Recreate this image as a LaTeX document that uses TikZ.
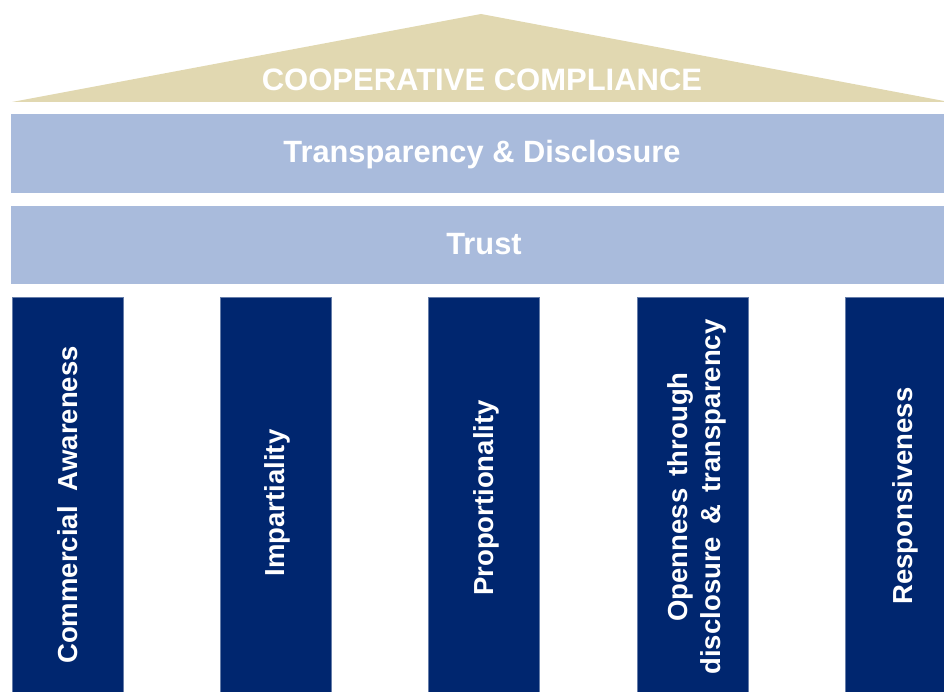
\documentclass[tikz,border=0pt]{standalone}
\usepackage{fontspec}
\setmainfont{Liberation Sans}
\usepackage{tikz}

\definecolor{roofbeige}{HTML}{E1D8B1}
\definecolor{bandblue}{HTML}{A9BBDC}
\definecolor{pillarnavy}{HTML}{00266F}

\begin{document}
\begin{tikzpicture}[x=1pt, y=-1pt,
    bandtext/.style={text=white, font=\bfseries\fontsize{30.8}{37}\selectfont, anchor=base},
    pillartext/.style={text=white, font=\bfseries\fontsize{27.5}{33}\selectfont, rotate=90}]
    \useasboundingbox (0,0) rectangle (944,692);

    % Roof
    \fill[roofbeige] (12,102) -- (481,14) -- (944,101) -- (944,102) -- cycle;
    \node[bandtext, font=\bfseries\fontsize{31}{37}\selectfont] (roof) at (482,91) {COOPERATIVE COMPLIANCE};

    % Bands
    \fill[bandblue] (11,114) rectangle (944,193);
    \node[bandtext] (disclosure) at (482,163) {Transparency \& Disclosure};
    \fill[bandblue] (11,206) rectangle (944,284);
    \node[bandtext] (trust) at (484,255) {Trust};

    % Pillars
    \foreach \x in {12, 220, 428, 637, 845}
    \filldraw[fill=pillarnavy, draw=pillarnavy!60!white, line width=0.6pt] (\x,297) rectangle ++(111,400);

    % Pillar labels
    \node[pillartext, anchor=base] (awareness) at (77,505) {Commercial\ \ Awareness};
    \node[pillartext, anchor=base] (impartiality) at (284,503) {Impartiality};
    \node[pillartext, anchor=base] (proportionality) at (493,498) {Proportionality};
    \node[pillartext, align=center] (openness) at (697,497) {Openness\hspace{0.45em}through\\disclosure\hspace{0.45em}\&\hspace{0.45em}transparency};
    \node[pillartext, anchor=base] (responsiveness) at (912,496) {Responsiveness};
  \end{tikzpicture}
\end{document}
